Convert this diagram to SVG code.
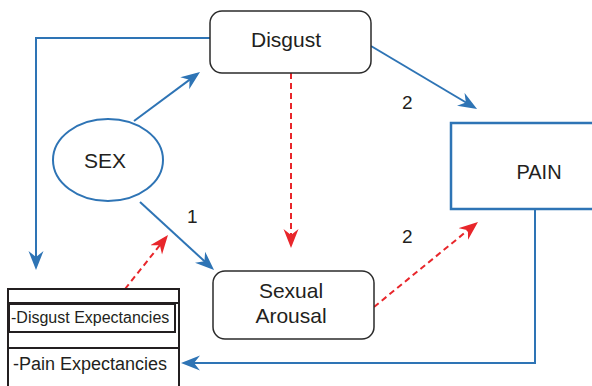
<svg xmlns="http://www.w3.org/2000/svg" width="592" height="386" viewBox="0 0 592 386">
  <style>
    .lbl { font-family: "Liberation Sans", Arial, sans-serif; fill: #231f20; }
    .rbox { fill: #fff; stroke: #2b2b2b; stroke-width: 1.5; }
    .blue { fill: none; stroke: #2e74b5; stroke-width: 2; }
    .red { fill: none; stroke: #e8262b; stroke-width: 2; stroke-dasharray: 6 4; }
    .frame { fill: none; stroke: #231f20; stroke-width: 2; }
  </style>
  <defs>
    <marker id="arrowBlue" viewBox="-15 -8 19 16" refX="0" refY="0" markerWidth="19" markerHeight="16" markerUnits="userSpaceOnUse" orient="auto">
      <path d="M4,0 L-15,-7.5 L-9,0 L-15,7.5 Z" fill="#2e74b5"/>
    </marker>
    <marker id="arrowRed" viewBox="-15 -8 19 16" refX="0" refY="0" markerWidth="19" markerHeight="16" markerUnits="userSpaceOnUse" orient="auto">
      <path d="M4,0 L-15,-7.5 L-9,0 L-15,7.5 Z" fill="#e8262b"/>
    </marker>
  </defs>

  <rect width="592" height="386" fill="#fff"/>

  <g id="connectors">
    <path class="blue" d="M210,38 H36 V266" marker-end="url(#arrowBlue)"/>
    <path class="blue" d="M134,121 L196.8,74.4" marker-end="url(#arrowBlue)"/>
    <path class="blue" d="M140,202 L211.1,267.3" marker-end="url(#arrowBlue)"/>
    <path class="blue" d="M371,46 L473.6,107" marker-end="url(#arrowBlue)"/>
    <path class="blue" d="M535,209 V363 H185" marker-end="url(#arrowBlue)"/>
    <path class="red" d="M291,73 V244" marker-end="url(#arrowRed)"/>
    <path class="red" d="M374,307 L474.9,224.5" marker-end="url(#arrowRed)"/>
    <path class="red" d="M125,289 L165.5,238.1" marker-end="url(#arrowRed)"/>
    <text class="lbl" x="187" y="223" font-size="19">1</text>
    <text class="lbl" x="402" y="109" font-size="19">2</text>
    <text class="lbl" x="402" y="243" font-size="19">2</text>
  </g>

  <g id="disgust">
    <rect class="rbox" x="210" y="11" width="161" height="62" rx="12"/>
    <text class="lbl" x="286" y="47" font-size="21" text-anchor="middle">Disgust</text>
  </g>

  <g id="sex">
    <ellipse cx="108" cy="160" rx="55" ry="41" fill="#fff" stroke="#2e74b5" stroke-width="2"/>
    <text class="lbl" x="105" y="168" font-size="21" text-anchor="middle">SEX</text>
  </g>

  <g id="pain">
    <rect x="451" y="123" width="150" height="86" fill="#fff" stroke="#2e74b5" stroke-width="2.5"/>
    <text class="lbl" x="539" y="179" font-size="20" text-anchor="middle">PAIN</text>
  </g>

  <g id="sexual-arousal">
    <rect class="rbox" x="213" y="271" width="161" height="68" rx="12"/>
    <text class="lbl" x="291" y="298" font-size="21" text-anchor="middle">Sexual</text>
    <text class="lbl" x="291" y="323" font-size="21" text-anchor="middle">Arousal</text>
  </g>

  <g id="expectancies">
    <rect class="frame" x="8" y="289" width="171" height="110" fill="#fff"/>
    <line class="frame" x1="8" y1="303" x2="179" y2="303"/>
    <rect class="frame" x="9" y="304" width="166" height="28"/>
    <line class="frame" x1="8" y1="348" x2="179" y2="348"/>
    <text class="lbl" x="11" y="323" font-size="16">-Disgust Expectancies</text>
    <text class="lbl" x="13" y="370" font-size="18">-Pain Expectancies</text>
  </g>
</svg>
